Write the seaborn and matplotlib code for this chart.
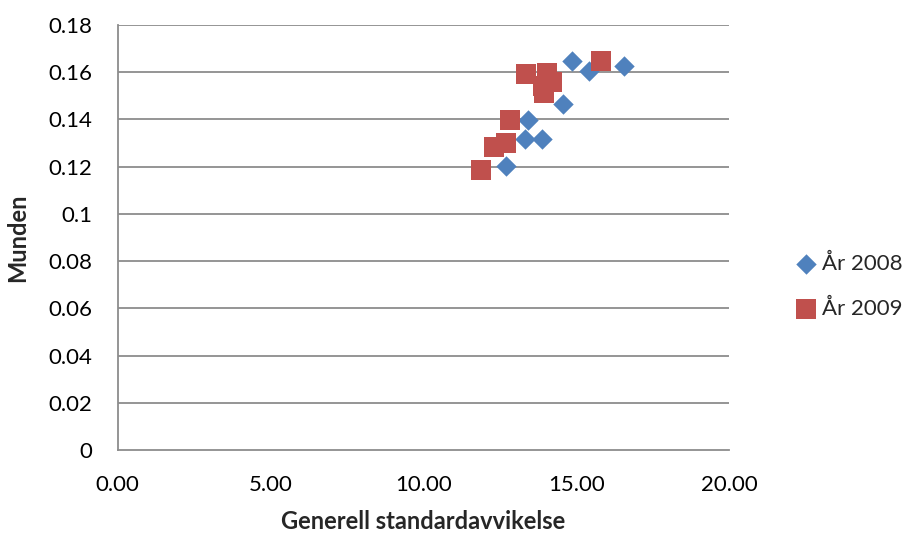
import matplotlib
matplotlib.use("Agg")
import matplotlib.pyplot as plt
import seaborn as sns
import pandas as pd

# Data: general standard deviation vs. "Munden" score, two years
x_2008 = [14.87, 15.42, 16.57, 14.57, 13.41, 13.33, 13.89, 12.72]
y_2008 = [0.1649, 0.1606, 0.1626, 0.1465, 0.1398, 0.1317, 0.1317, 0.1204]
x_2009 = [15.80, 13.35, 14.05, 14.20, 13.90, 13.95, 12.83, 12.70, 12.32, 11.89]
y_2009 = [0.1646, 0.1592, 0.1595, 0.1559, 0.1542, 0.1512, 0.1398, 0.1302, 0.1282, 0.1186]

labels = ["År 2008", "År 2009"]
x_ticks = [0, 5, 10, 15, 20]
y_ticks = [0, 0.02, 0.04, 0.06, 0.08, 0.1, 0.12, 0.14, 0.16, 0.18]
y_ticklabels = ["0", "0.02", "0.04", "0.06", "0.08", "0.1", "0.12", "0.14", "0.16", "0.18"]

df = pd.concat([
    pd.DataFrame({"x": x_2008, "y": y_2008, "serie": labels[0]}),
    pd.DataFrame({"x": x_2009, "y": y_2009, "serie": labels[1]}),
])

sns.set_style("white")
plt.rcParams["font.family"] = ["Lato", "DejaVu Sans"]

fig = plt.figure(figsize=(9.05, 5.36), dpi=100)
ax = fig.add_axes([0.130, 0.1604, 0.6755, 0.793])

blue = "#4F81BD"
red = "#C0504D"

sns.scatterplot(data=df[df.serie == labels[0]], x="x", y="y", marker="D", s=108,
                color=blue, edgecolor=blue, linewidth=0, ax=ax, label=labels[0], zorder=3)
sns.scatterplot(data=df[df.serie == labels[1]], x="x", y="y", marker="s", s=205,
                color=red, edgecolor=red, linewidth=0, ax=ax, label=labels[1], zorder=4)

ax.set_xlim(0, 20)
ax.set_ylim(0, 0.18)
ax.set_xticks(x_ticks)
ax.set_xticklabels([f"{t:.2f}" for t in x_ticks])
ax.set_yticks(y_ticks)
ax.set_yticklabels(y_ticklabels)

grid_col = "#8C8C8C"
for v in y_ticks[1:]:
    ax.axhline(v, color=grid_col, linewidth=1.3, zorder=1)

for s in ["top", "right"]:
    ax.spines[s].set_visible(False)
for s in ["left", "bottom"]:
    ax.spines[s].set_color(grid_col)
    ax.spines[s].set_linewidth(1.3)

ax.tick_params(axis="both", which="major", direction="out", length=6, width=1.3,
               color=grid_col, labelsize=16, labelcolor="black")
ax.tick_params(axis="y", pad=12)
ax.tick_params(axis="x", pad=12)

ax.set_xlabel("Generell standardavvikelse", fontsize=17, fontweight="bold", va="center")
ax.set_ylabel("Munden", fontsize=17, fontweight="bold", va="center")
ax.xaxis.set_label_coords(0.5, -0.167)
ax.yaxis.set_label_coords(-0.163, 0.5)

leg = ax.legend(loc="center left", bbox_to_anchor=(1.085, 0.385), frameon=False,
                fontsize=16, labelspacing=1.1, handletextpad=0.05, borderpad=0,
                handlelength=1.3)

fig.savefig("out.png", dpi=100)
